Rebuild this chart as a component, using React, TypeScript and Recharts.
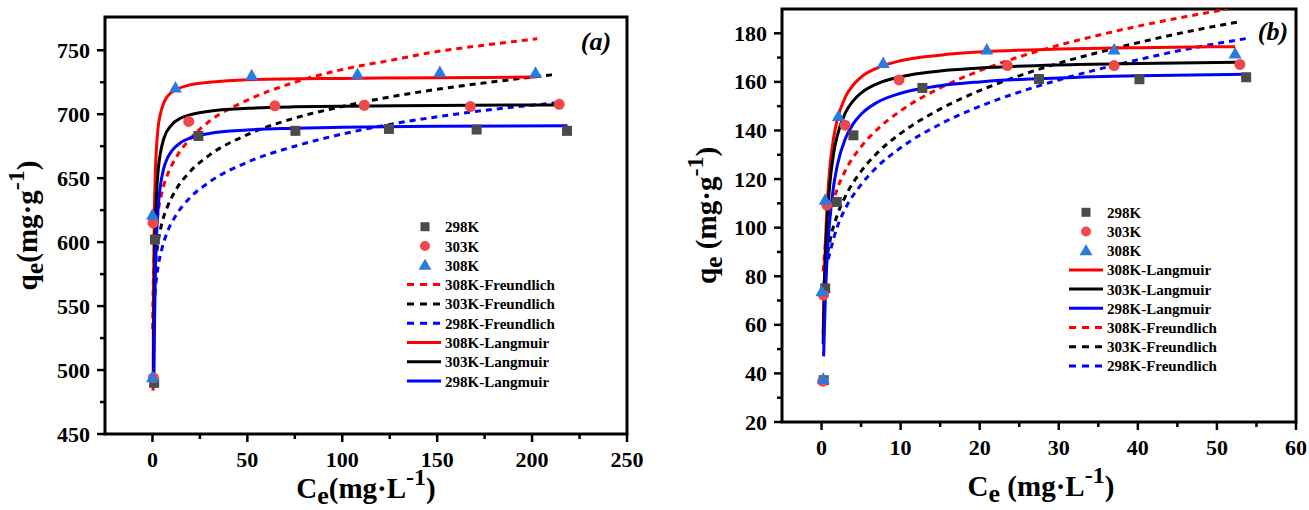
import React from 'react';
import { ComposedChart, Line, Scatter, XAxis, YAxis, ReferenceArea } from 'recharts';

type P = [number, number][];

// ---------- Panel (a) data ----------
const A_X_TICKS = [0, 25, 50, 75, 100, 125, 150, 175, 200, 225, 250];
const A_Y_TICKS = [450, 475, 500, 525, 550, 575, 600, 625, 650, 675, 700, 725, 750];

const A_298: P = [[0.9, 490], [1.3, 602], [24.2, 683], [75.3, 687], [124.6, 688.5], [170.8, 688], [218.4, 687]];
const A_303: P = [[0.5, 494], [0.3, 615], [19.1, 694.4], [64.5, 706.6], [111.6, 707], [167.5, 706], [214.3, 707.7]];
const A_308: P = [[0, 494], [0, 621], [12.1, 720.5], [52.3, 730], [108, 731], [151.4, 732.7], [201.8, 732]];

const A_L308: P = [[0.34, 484], [0.5, 543], [0.75, 593], [1, 622], [1.5, 654], [2, 671], [3, 690], [4, 699], [6, 709], [10, 717], [20, 723], [30, 725], [50, 727], [100, 728], [150, 728.5], [201.6, 729]];
const A_L303: P = [[0.55, 496], [0.75, 537], [1, 572], [1.5, 611], [2, 633], [3, 656], [4, 668], [6, 681], [10, 691.5], [15, 697], [20, 699.7], [30, 702.4], [50, 704.6], [75, 705.8], [100, 706.3], [150, 706.9], [214.8, 707.2]];
const A_L298: P = [[0.77, 492], [1, 527], [1.5, 573], [2, 598.5], [3, 627], [4, 642], [6, 658], [8, 666], [10, 671], [15, 678], [20, 681.4], [30, 685], [50, 687.7], [75, 689], [100, 689.8], [150, 690.6], [218.6, 691]];

const A_F308: P = [[0.1, 532], [0.5, 574], [1, 592.5], [2, 612], [3, 624], [5, 639], [8, 653], [12, 665], [20, 681], [30, 694.5], [50, 711], [75, 725], [100, 735], [125, 742], [150, 749], [175, 754], [202.7, 759]];
const A_F303: P = [[0.45, 550], [1, 571], [2, 589], [3, 600], [5, 615], [8, 628], [12, 640], [20, 655.5], [30, 668], [50, 684], [75, 697], [100, 706], [125, 713.5], [150, 719.5], [175, 724.5], [211.5, 731]];
const A_F298: P = [[1.3, 559], [2, 570.5], [3, 581], [5, 595], [8, 608.5], [12, 620], [20, 635], [30, 647], [50, 662.5], [75, 675], [100, 684.5], [125, 692], [150, 698], [175, 703], [213.7, 709]];

// ---------- Panel (b) data ----------
const B_X_TICKS = [0, 5, 10, 15, 20, 25, 30, 35, 40, 45, 50, 55, 60];
const B_Y_TICKS = [20, 30, 40, 50, 60, 70, 80, 90, 100, 110, 120, 130, 140, 150, 160, 170, 180];

const B_298: P = [[0.27, 37.2], [0.46, 75], [1.93, 110.6], [4.03, 138], [12.75, 157.5], [27.5, 161.2], [40.2, 161.1], [53.7, 161.9]];
const B_303: P = [[0.16, 36.8], [0.24, 72.2], [0.67, 109.3], [2.98, 142.2], [9.8, 160.8], [23.5, 166.7], [37, 166.7], [52.9, 167.2]];
const B_308: P = [[0.2, 37.6], [0.04, 73.6], [0.46, 111.3], [2.14, 145.7], [7.8, 167.6], [20.9, 173.1], [37, 173.1], [52.3, 171.5]];

const B_L308: P = [[0.2, 56], [0.4, 84], [0.6, 102], [0.8, 114], [1, 123], [1.5, 136.5], [2, 144.6], [3, 153.7], [4, 158.7], [5, 162], [7, 165.7], [10, 168.7], [15, 171], [20, 172.3], [30, 173.5], [40, 174.1], [52.3, 174.5]];
const B_L303: P = [[0.2, 52], [0.4, 79], [0.6, 96.5], [0.8, 108], [1, 116.5], [1.5, 130], [2, 138], [3, 147.2], [4, 152.2], [5, 155.4], [7, 159.2], [10, 162.1], [15, 164.5], [20, 165.7], [30, 167], [40, 167.6], [52.6, 168.1]];
const B_L298: P = [[0.26, 47], [0.5, 73], [0.7, 87], [1, 101.5], [1.5, 116.5], [2, 125.7], [3, 136.6], [4, 142.7], [5, 146.7], [7, 151.5], [10, 155.3], [15, 158.4], [20, 160], [30, 161.6], [40, 162.5], [53.8, 163.1]];

const B_F308: P = [[0.2, 82], [0.5, 94], [1, 104.4], [2, 116], [3, 123.4], [5, 133.3], [7, 140.3], [10, 148.1], [15, 157.5], [20, 164.6], [25, 170.3], [30, 175.1], [35, 179.2], [40, 182.9], [45, 186.2], [51.4, 190]];
const B_F303: P = [[0.3, 76], [0.5, 83], [1, 93.4], [2, 105.3], [3, 112.8], [5, 123.2], [7, 130.6], [10, 138.8], [15, 148.8], [20, 156.4], [25, 162.5], [30, 167.7], [35, 172.1], [40, 176.1], [45, 179.8], [53.1, 184.9]];
const B_F298: P = [[0.85, 87], [1, 89], [2, 100.4], [3, 107.8], [5, 117.7], [7, 124.9], [10, 132.9], [15, 142.6], [20, 149.9], [25, 155.8], [30, 160.8], [35, 165.2], [40, 169.1], [45, 172.7], [53.8, 177.9]];

// ---------- legend labels ----------
const A_LEGEND = ['298K', '303K', '308K', '308K-Freundlich', '303K-Freundlich', '298K-Freundlich', '308K-Langmuir', '303K-Langmuir', '298K-Langmuir'];
const B_LEGEND = ['298K', '303K', '308K', '308K-Langmuir', '303K-Langmuir', '298K-Langmuir', '308K-Freundlich', '303K-Freundlich', '298K-Freundlich'];

// ---------- styles ----------
const FONT = '"Liberation Serif", "Times New Roman", Times, serif';
const C_SQ = '#4b4b4b';
const C_CI = '#f04848';
const C_TR = '#2a7ae0';
const RED = '#ff0000';
const BLUE = '#0000ff';
const BLACK = '#000000';

const toXY = (p: P) => p.map(([x, y]) => ({ x, y }));
const isMajor = (v: number, step: number) => Math.abs(v / step - Math.round(v / step)) < 1e-6;

const tickStyle: React.CSSProperties = { fontFamily: FONT, fontWeight: 700, fontSize: 22 };

const makeXTick = (step: number, labelDy: number) => (props: any) => {
  const { x, y, payload } = props;
  const v = payload.value;
  const major = isMajor(v, step);
  return (
    <g>
      <line x1={x} y1={y} x2={x} y2={y + (major ? 8 : 5)} stroke="#000" strokeWidth={2.5} />
      {major && (
        <text x={x} y={y + labelDy} textAnchor="middle" fill="#000" style={tickStyle}>
          {v}
        </text>
      )}
    </g>
  );
};

const makeYTick = (step: number) => (props: any) => {
  const { x, y, payload } = props;
  const v = payload.value;
  const major = isMajor(v, step);
  return (
    <g>
      <line x1={x} y1={y} x2={x - (major ? 8 : 5)} y2={y} stroke="#000" strokeWidth={2.5} />
      {major && (
        <text x={x - 15} y={y + 7.5} textAnchor="end" fill="#000" style={tickStyle}>
          {v}
        </text>
      )}
    </g>
  );
};

const Square = (p: any) => <rect x={p.cx - 5} y={p.cy - 5} width={10} height={10} fill={C_SQ} />;
const Dot = (p: any) => <circle cx={p.cx} cy={p.cy} r={5.5} fill={C_CI} />;
const Tri = (p: any) => (
  <polygon points={`${p.cx},${p.cy - 7} ${p.cx + 6.5},${p.cy + 4.5} ${p.cx - 6.5},${p.cy + 4.5}`} fill={C_TR} />
);

const titleStyle: React.CSSProperties = { fontFamily: FONT, fontWeight: 700, fontSize: 29 };

const XTitle = (text: string, space: boolean, dyBase: number, dx: number) => (props: any) => {
  const vb = props.viewBox || {};
  const cx = vb.x + vb.width / 2 + dx;
  const cy = vb.y + dyBase;
  return (
    <text x={cx} y={cy} textAnchor="middle" fill="#000" style={titleStyle}>
      C<tspan dy={6} fontSize={26}>e</tspan>
      <tspan dy={-6}>{space ? ' (' : '('}mg·L</tspan>
      <tspan dy={-13} fontSize={24}>-1</tspan>
      <tspan dy={13}>)</tspan>
    </text>
  );
};

const YTitle = (space: boolean, baseX: number) => (props: any) => {
  const vb = props.viewBox || {};
  const cx = vb.x + baseX;
  const cy = vb.y + vb.height / 2;
  return (
    <text x={cx} y={cy} textAnchor="middle" fill="#000" transform={`rotate(-90, ${cx}, ${cy})`} style={titleStyle}>
      q<tspan dy={6} fontSize={26}>e</tspan>
      <tspan dy={-6}>{space ? ' (' : '('}mg·g</tspan>
      <tspan dy={-13} fontSize={24}>-1</tspan>
      <tspan dy={13}>)</tspan>
    </text>
  );
};

type LineSpec = { name: string; pts: P; color: string; dash: boolean };

const A_LINES: LineSpec[] = [
  { name: '308K-Freundlich', pts: A_F308, color: RED, dash: true },
  { name: '303K-Freundlich', pts: A_F303, color: BLACK, dash: true },
  { name: '298K-Freundlich', pts: A_F298, color: BLUE, dash: true },
  { name: '308K-Langmuir', pts: A_L308, color: RED, dash: false },
  { name: '303K-Langmuir', pts: A_L303, color: BLACK, dash: false },
  { name: '298K-Langmuir', pts: A_L298, color: BLUE, dash: false },
];
const B_LINES: LineSpec[] = [
  { name: '308K-Freundlich', pts: B_F308, color: RED, dash: true },
  { name: '303K-Freundlich', pts: B_F303, color: BLACK, dash: true },
  { name: '298K-Freundlich', pts: B_F298, color: BLUE, dash: true },
  { name: '308K-Langmuir', pts: B_L308, color: RED, dash: false },
  { name: '303K-Langmuir', pts: B_L303, color: BLACK, dash: false },
  { name: '298K-Langmuir', pts: B_L298, color: BLUE, dash: false },
];

const legendKind = (label: string): { kind: string; color: string } => {
  if (label === '298K') return { kind: 'sq', color: C_SQ };
  if (label === '303K') return { kind: 'ci', color: C_CI };
  if (label === '308K') return { kind: 'tr', color: C_TR };
  const color = label.startsWith('308') ? RED : label.startsWith('303') ? BLACK : BLUE;
  return { kind: label.includes('Freundlich') ? 'dash' : 'solid', color };
};

const LegendSvg = ({ labels, mx, lx1, lx2, tx, y0, step }: { labels: string[]; mx: number; lx1: number; lx2: number; tx: number; y0: number; step: number }) => (
  <g>
    {labels.map((lab, i) => {
      const y = y0 + i * step;
      const { kind, color } = legendKind(lab);
      let sym: React.ReactNode = null;
      if (kind === 'sq') sym = <rect x={mx - 4.5} y={y - 4.5} width={9} height={9} fill={color} />;
      else if (kind === 'ci') sym = <circle cx={mx} cy={y} r={5} fill={color} />;
      else if (kind === 'tr') sym = <polygon points={`${mx},${y - 6.5} ${mx + 6.5},${y + 4.5} ${mx - 6.5},${y + 4.5}`} fill={color} />;
      else sym = <line x1={lx1} y1={y} x2={lx2} y2={y} stroke={color} strokeWidth={3} strokeDasharray={kind === 'dash' ? '7 6' : undefined} />;
      return (
        <g key={lab}>
          {sym}
          <text x={tx} y={y + 5.5} fill="#000" style={{ fontFamily: FONT, fontWeight: 700, fontSize: 15 }}>
            {lab}
          </text>
        </g>
      );
    })}
  </g>
);

function Panel(props: {
  left: number; width: number; margin: any; yAxisWidth: number; xAxisHeight: number;
  xDomain: [number, number]; yDomain: [number, number]; xTicks: number[]; yTicks: number[];
  xStep: number; yStep: number; lines: LineSpec[]; s298: P; s303: P; s308: P;
  xTitle: any; yTitle: any; legend: React.ReactNode; tag: string; tagX: number; tagY: number;
}) {
  return (
    <div style={{ position: 'absolute', left: props.left, top: 0, width: props.width, height: 510 }}>
      <ComposedChart width={props.width} height={510} margin={props.margin}>
        <XAxis
          type="number" dataKey="x" domain={props.xDomain} ticks={props.xTicks} interval={0}
          allowDataOverflow tickSize={0} tickMargin={0} axisLine={false} tickLine={false}
          height={props.xAxisHeight} tick={makeXTick(props.xStep, 33)} label={props.xTitle}
        />
        <YAxis
          type="number" dataKey="y" domain={props.yDomain} ticks={props.yTicks} interval={0}
          allowDataOverflow tickSize={0} tickMargin={0} axisLine={false} tickLine={false}
          width={props.yAxisWidth} tick={makeYTick(props.yStep)} label={props.yTitle}
        />
        {props.lines.map((s) => (
          <Line
            key={s.name} name={s.name} data={toXY(s.pts)} dataKey="y" type="monotone"
            stroke={s.color} strokeWidth={3} strokeDasharray={s.dash ? '6 5' : undefined}
            dot={false} activeDot={false} isAnimationActive={false}
          />
        ))}
        <Scatter name="298K" data={toXY(props.s298)} shape={Square} isAnimationActive={false} />
        <Scatter name="303K" data={toXY(props.s303)} shape={Dot} isAnimationActive={false} />
        <Scatter name="308K" data={toXY(props.s308)} shape={Tri} isAnimationActive={false} />
        <ReferenceArea
          x1={props.xDomain[0]} x2={props.xDomain[1]} y1={props.yDomain[0]} y2={props.yDomain[1]}
          fill="none" fillOpacity={0} stroke="#000" strokeWidth={3} ifOverflow="visible"
        />
      </ComposedChart>
      <svg width={props.width} height={510} style={{ position: 'absolute', left: 0, top: 0, pointerEvents: 'none' }}>
        {props.legend}
        <text x={props.tagX} y={props.tagY} textAnchor="middle" fill="#000" style={{ fontFamily: FONT, fontWeight: 700, fontStyle: 'italic', fontSize: 26 }}>
          {props.tag}
        </text>
      </svg>
    </div>
  );
}

export default function App() {
  return (
    <div style={{ position: 'absolute', left: 0, top: 0, width: 1309, height: 510, background: '#fff', overflow: 'hidden' }}>
      <Panel
        left={0} width={650} margin={{ top: 17, right: 23, left: 0, bottom: 0 }}
        yAxisWidth={105} xAxisHeight={76} xDomain={[-25, 250]} yDomain={[450, 776]}
        xTicks={A_X_TICKS} yTicks={A_Y_TICKS} xStep={50} yStep={50}
        lines={A_LINES} s298={A_298} s303={A_303} s308={A_308}
        xTitle={XTitle('Ce', false, 64, 0)} yTitle={YTitle(false, 37)}
        legend={<LegendSvg labels={A_LEGEND} mx={425} lx1={407} lx2={441} tx={445} y0={226.7} step={19.3} />}
        tag="(a)" tagX={596} tagY={50}
      />
      <Panel
        left={650} width={659} margin={{ top: 9, right: 13, left: 0, bottom: 0 }}
        yAxisWidth={132} xAxisHeight={88} xDomain={[-5, 60]} yDomain={[20, 190]}
        xTicks={B_X_TICKS} yTicks={B_Y_TICKS} xStep={10} yStep={20}
        lines={B_LINES} s298={B_298} s303={B_303} s308={B_308}
        xTitle={XTitle('Ce', true, 74, 2)} yTitle={YTitle(true, 66)}
        legend={<LegendSvg labels={B_LEGEND} mx={436} lx1={419} lx2={453} tx={457} y0={212.3} step={19.2} />}
        tag="(b)" tagX={623} tagY={40}
      />
    </div>
  );
}
